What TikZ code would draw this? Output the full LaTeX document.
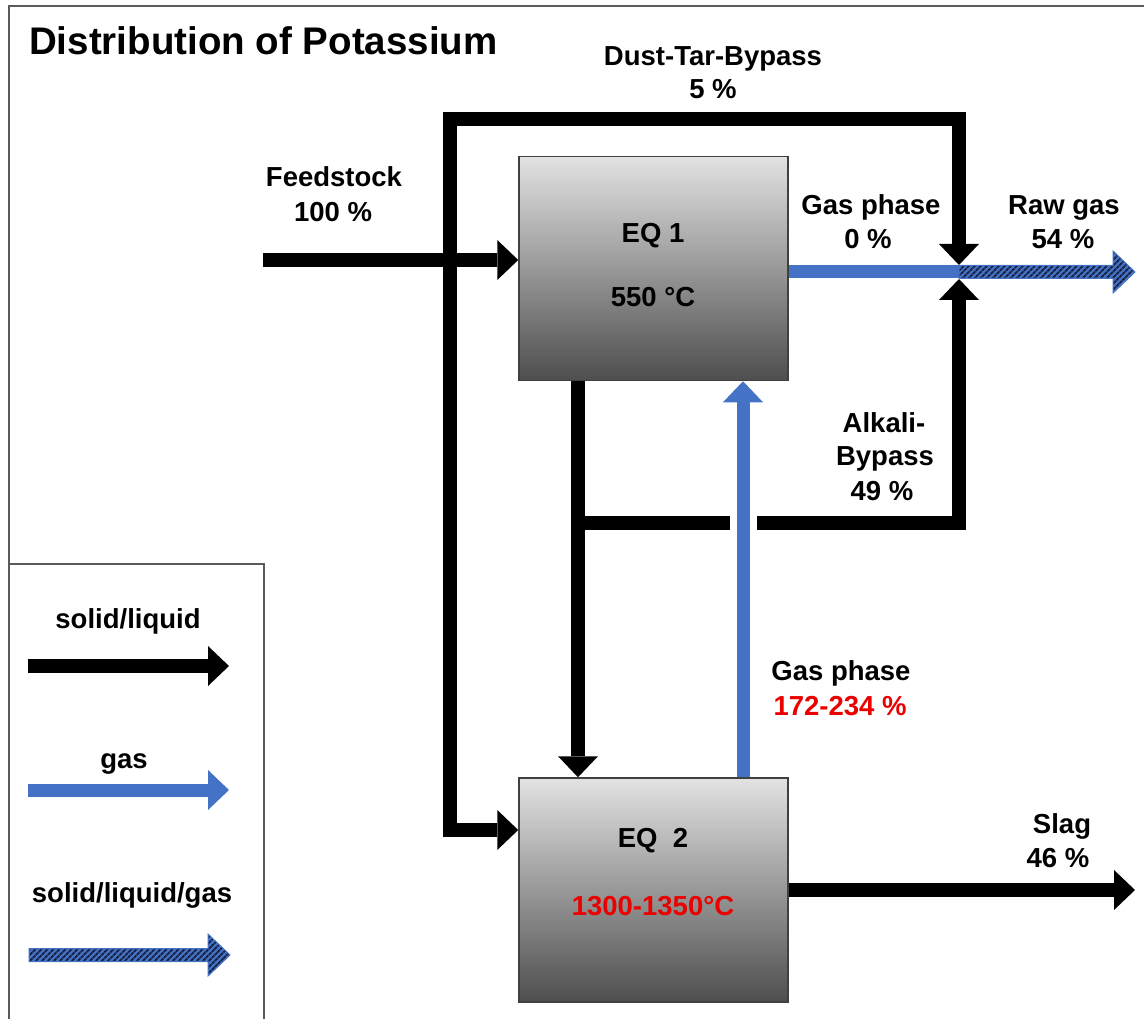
\documentclass[tikz,border=0pt]{standalone}
\usepackage{fontspec}
\setmainfont{Liberation Sans}
\usetikzlibrary{arrows.meta,patterns.meta,calc}
\definecolor{gasblue}{RGB}{68,114,196}
\definecolor{hatchnavy}{RGB}{22,32,66}
\definecolor{framegray}{RGB}{90,90,90}
\definecolor{boxtop}{RGB}{226,226,226}
\definecolor{boxbot}{RGB}{78,78,78}
\definecolor{tempred}{RGB}{235,0,0}
\newcommand\hatcharrow[2]{%
  \fill[draw=gasblue, line width=1pt, preaction={fill=gasblue},
        pattern={Lines[angle=45,distance=4pt,line width=2pt]}, pattern color=hatchnavy]
    ($(#1)+(0,-6.5)$) -- ($(#2)+(-22,-6.5)$) -- ($(#2)+(-22,-21)$) -- (#2)
    -- ($(#2)+(-22,21)$) -- ($(#2)+(-22,6.5)$) -- ($(#1)+(0,6.5)$) -- cycle;}
\begin{document}
\begin{tikzpicture}[x=1pt,y=-1pt,
  >={Triangle[width=40pt,length=21pt,line width=0pt]},
  lbl/.style={font=\fontsize{27.5}{33}\selectfont\bfseries, align=center, inner sep=0pt, anchor=base},
  eqbox/.style={draw=black!75, line width=1.5pt, top color=boxtop, bottom color=boxbot,
                minimum width=269pt, minimum height=224pt, inner sep=0pt},
  solidline/.style={draw=black, line width=14pt, line join=miter},
  solidflow/.style={solidline, ->},
  gasline/.style={draw=gasblue, line width=13pt, line join=miter},
  gasflow/.style={gasline, ->},
  framestyle/.style={draw=framegray, line width=2pt},
]
\useasboundingbox (0,0) rectangle (1144,1019);

% frame and legend box
\draw[framestyle] (9,1019) -- (9,6) -- (1144,6);
\draw[framestyle, line width=1.6pt] (9,564) -- (264,564) -- (264,1019);

% boxes
\node[eqbox] (eq1) at (653.5,268.5) {};
\node[eqbox] (eq2) at (653.5,890) {};

% coordinates
\coordinate (fs) at (263,260);
\coordinate (bTL) at (450,119);
\coordinate (bTR) at (959,119);
\coordinate (jtop) at (959,265);
\coordinate (jbot) at (959,279);
\coordinate (jmid) at (959,272);
\coordinate (bBL) at (450,830);
\coordinate (aL) at (578,523);
\coordinate (aG1) at (730,523);
\coordinate (aG2) at (757,523);
\coordinate (aR) at (959,523);
\coordinate (gasx) at (743,600);
\coordinate (rawend) at (1135,272);
\coordinate (slagend) at (1135,890);

% flows
\draw[solidflow] (fs) -- (fs -| eq1.west);
\draw[solidline, <->] (jtop) -- (bTR) -- (bTL) -- (bBL) -- (bBL -| eq2.west);
\draw[solidflow] (eq1.south -| aL) -- (eq2.north -| aL);
\draw[solidline] (aL) -- (aG1);
\draw[solidflow] (aG2) -- (aR) -- (jbot);
\draw[gasflow] (eq2.north -| gasx) -- (eq1.south -| gasx);
\draw[gasline] (eq1.east |- jmid) -- (jmid);
\hatcharrow{jmid}{rawend}
\draw[solidflow] (eq2.east |- slagend) -- (slagend);

% legend arrows
\coordinate (l1s) at (28,666); \coordinate (l1e) at (229,666);
\coordinate (l2s) at (28,790); \coordinate (l2e) at (229,790);
\coordinate (l3s) at (29,955); \coordinate (l3e) at (230,955);
\draw[solidflow] (l1s) -- (l1e);
\draw[gasflow] (l2s) -- (l2e);
\hatcharrow{l3s}{l3e}

% texts
\node[font=\fontsize{38.5}{44}\selectfont\bfseries, inner sep=0pt, anchor=base west] (title) at (29,55) {Distribution of Potassium};
\node[lbl] (dtb) at (713,66) {Dust-Tar-Bypass};
\node[lbl] (dtbp) at (713,99) {5 \%};
\node[lbl] (feed) at (334,187) {Feedstock};
\node[lbl] (feedp) at (333,222) {100 \%};
\node[lbl] (eq1t) at (653,243) {EQ 1};
\node[lbl] (eq1temp) at (653,307) {550 °C};
\node[lbl] (gp1) at (871,215) {Gas phase};
\node[lbl] (gp1p) at (868,249) {0 \%};
\node[lbl] (raw) at (1064,215) {Raw gas};
\node[lbl] (rawp) at (1063,249) {54 \%};
\node[lbl] (alk1) at (884,432) {Alkali-};
\node[lbl] (alk2) at (885,465) {Bypass};
\node[lbl] (alkp) at (882,500) {49 \%};
\node[lbl] (gp2) at (841,680) {Gas phase};
\node[lbl, text=tempred] (gp2p) at (840,715) {172-234 \%};
\node[lbl] (eq2t) at (653,847) {EQ~~2};
\node[lbl, text=tempred] (eq2temp) at (653,915) {1300-1350°C};
\node[lbl] (slag) at (1062,833) {Slag};
\node[lbl] (slagp) at (1058,867) {46 \%};
\node[lbl] (leg1) at (128,628) {solid/liquid};
\node[lbl] (leg2) at (124,768) {gas};
\node[lbl] (leg3) at (132,902) {solid/liquid/gas};
\end{tikzpicture}
\end{document}
